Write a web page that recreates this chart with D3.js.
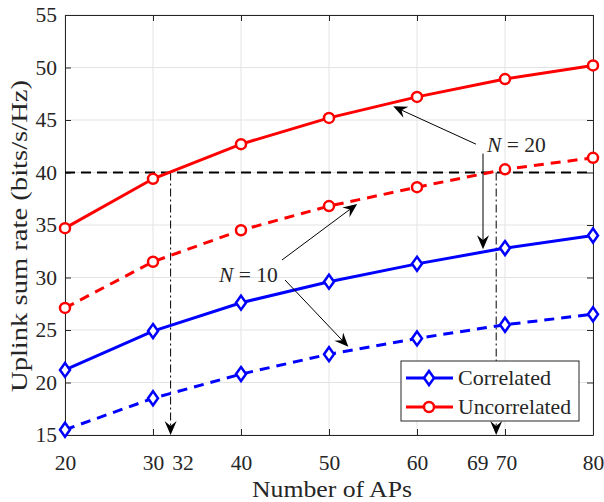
<!DOCTYPE html>
<html><head><meta charset="utf-8">
<script src="https://cdn.jsdelivr.net/npm/d3@7"></script>
<style>body{margin:0;background:#fff}svg text{font-family:"Liberation Serif","Times New Roman",serif;fill:#262626}</style>
</head><body><svg id="c" width="604" height="502"></svg>
<script>
const aps = [20, 30, 40, 50, 60, 70, 80];
const corrN20 = [21.2, 24.9, 27.6, 29.6, 31.3, 32.8, 34.0];
const corrN10 = [15.5, 18.5, 20.8, 22.7, 24.2, 25.5, 26.5];
const uncorrN20 = [34.7, 39.4, 42.7, 45.2, 47.2, 48.9, 50.2];
const uncorrN10 = [27.1, 31.5, 34.5, 36.8, 38.6, 40.3, 41.4];
const xTicks = [20, 30, 32, 40, 50, 60, 69, 70, 80];
const xGrid = [20, 30, 40, 50, 60, 70, 80];
const yTicks = [15, 20, 25, 30, 35, 40, 45, 50, 55];
const target = 40;
const crossings = [32, 69];
const legendNames = ["Correlated", "Uncorrelated"];

const svg = d3.select("#c");
const L = 65, R = 593, T = 15, B = 435;
const x = d3.scaleLinear().domain([20, 80]).range([L, R]);
const y = d3.scaleLinear().domain([15, 55]).range([B, T]);
const axisCol = "#262626";

// grid
const g = svg.append("g");
g.selectAll(".gx").data(xGrid).join("line").attr("x1", d => x(d)).attr("x2", d => x(d)).attr("y1", T).attr("y2", B).attr("stroke", "#e3e3e3").attr("stroke-width", 1);
g.selectAll(".gy").data(yTicks).join("line").attr("y1", d => y(d)).attr("y2", d => y(d)).attr("x1", L).attr("x2", R).attr("stroke", "#e3e3e3").attr("stroke-width", 1);

// axes
const fs = "21.5px";
const ax = svg.append("g").attr("transform", `translate(0,${B})`).call(d3.axisBottom(x).tickValues(xTicks).tickSizeInner(-6).tickSizeOuter(0).tickPadding(20));
const ay = svg.append("g").attr("transform", `translate(${L},0)`).call(d3.axisLeft(y).tickValues(yTicks).tickSizeInner(-6).tickSizeOuter(0).tickPadding(8));
svg.append("g").attr("transform", `translate(0,${T})`).call(d3.axisTop(x).tickValues(xGrid).tickSizeInner(-6).tickSizeOuter(0).tickFormat(""));
svg.append("g").attr("transform", `translate(${R},0)`).call(d3.axisRight(y).tickValues(yTicks).tickSizeInner(-6).tickSizeOuter(0).tickFormat(""));
svg.selectAll(".domain").attr("stroke", axisCol);
svg.selectAll(".tick line").attr("stroke", axisCol);
ax.selectAll(".tick").filter(d => d % 10 !== 0).select("line").remove();
svg.selectAll(".tick text").style("font-size", fs).attr("fill", axisCol).style("font-family", '"Liberation Serif",serif');
ax.selectAll(".tick text").attr("dx", d => d === 32 ? "12" : d === 69 ? "-19" : d === 70 ? "1" : "0");

// target line
svg.append("line").attr("x1", x(20)).attr("x2", x(80)).attr("y1", y(target)).attr("y2", y(target)).attr("stroke", "#000").attr("stroke-width", 2).attr("stroke-dasharray", "10,6");

function arrowHead(x2, y2, x1, y1, len, wid) {
  const a = Math.atan2(y2 - y1, x2 - x1);
  const ux = Math.cos(a), uy = Math.sin(a), px = -uy, py = ux;
  const bx = x2 - ux * len, by = y2 - uy * len;
  const nx = x2 - ux * len * 0.65, ny = y2 - uy * len * 0.65;
  return `M${x2},${y2}L${bx + px * wid},${by + py * wid}L${nx},${ny}L${bx - px * wid},${by - py * wid}Z`;
}

// dash-dot verticals with arrows
crossings.forEach(c => {
  svg.append("line").attr("x1", x(c)).attr("x2", x(c)).attr("y1", y(target)).attr("y2", y(15) - 8).attr("stroke", "#000").attr("stroke-width", 1).attr("stroke-dasharray", "8,3,2,3");
  svg.append("path").attr("d", arrowHead(x(c), y(15), x(c), y(target), 14, 6)).attr("fill", "#000");
});

// series
const series = [
  {v: uncorrN20, color: "#ff0000", dash: null, m: "o"},
  {v: uncorrN10, color: "#ff0000", dash: "10,7", m: "o"},
  {v: corrN20, color: "#0000ff", dash: null, m: "d"},
  {v: corrN10, color: "#0000ff", dash: "10,7", m: "d"}
];
const line = d3.line().x((d, i) => x(aps[i])).y(d => y(d));
const diamond = "M0,-7L5,0L0,7L-5,0Z";
series.forEach(s => {
  svg.append("path").attr("d", line(s.v)).attr("fill", "none").attr("stroke", s.color).attr("stroke-width", 3).attr("stroke-dasharray", s.dash);
  const mk = svg.append("g").selectAll("g").data(s.v).join("g").attr("transform", (d, i) => `translate(${x(aps[i])},${y(d)})`);
  if (s.m === "o") mk.append("circle").attr("r", 5).attr("fill", "#fff").attr("stroke", s.color).attr("stroke-width", 2.5);
  else mk.append("path").attr("d", diamond).attr("fill", "#fff").attr("stroke", s.color).attr("stroke-width", 2.5);
});

// annotations (data coordinates)
const annArrows = [
  [66.7, 42.7, 57.3, 46.3],
  [67.5, 41.8, 67.5, 32.7],
  [44.66, 31.67, 53.2, 37.0],
  [45.0, 29.76, 52.2, 23.4]
];
annArrows.forEach(([a, b, c, d]) => {
  const x1 = x(a), y1 = y(b), x2 = x(c), y2 = y(d);
  const ang = Math.atan2(y2 - y1, x2 - x1);
  svg.append("line").attr("x1", x1).attr("y1", y1).attr("x2", x2 - Math.cos(ang) * 8).attr("y2", y2 - Math.sin(ang) * 8).attr("stroke", "#000").attr("stroke-width", 1);
  svg.append("path").attr("d", arrowHead(x2, y2, x1, y1, 14, 6)).attr("fill", "#000");
});
const labs = [{t: "20", x: 67.95, y: 41.95}, {t: "10", x: 37.5, y: 29.57}];
labs.forEach(l => {
  const t = svg.append("text").attr("x", x(l.x)).attr("y", y(l.y)).style("font-size", "21.5px").attr("fill", "#000");
  t.append("tspan").style("font-style", "italic").text("N");
  t.append("tspan").text(" = " + l.t);
});

// axis labels
svg.append("text").attr("x", 332).attr("y", 497).attr("text-anchor", "middle").style("font-size", "23px")
  .attr("textLength", 160).attr("lengthAdjust", "spacingAndGlyphs").text("Number of APs");
svg.append("text").attr("transform", "translate(27,236) rotate(-90)").attr("text-anchor", "middle").style("font-size", "23.5px")
  .attr("textLength", 312).attr("lengthAdjust", "spacingAndGlyphs").text("Uplink sum rate (bits/s/Hz)");

// legend
const lg = svg.append("g").attr("transform", "translate(401,361)");
lg.append("rect").attr("width", 178).attr("height", 60).attr("fill", "#fff").attr("stroke", axisCol).attr("stroke-width", 1);
const legLen = [93, 113];
[{c: "#0000ff", m: "d"}, {c: "#ff0000", m: "o"}].forEach((e, i) => {
  const yy = 17 + i * 29;
  lg.append("line").attr("x1", 5).attr("x2", 52).attr("y1", yy).attr("y2", yy).attr("stroke", e.c).attr("stroke-width", 3);
  if (e.m === "o") lg.append("circle").attr("cx", 28).attr("cy", yy).attr("r", 5).attr("fill", "#fff").attr("stroke", e.c).attr("stroke-width", 2.5);
  else lg.append("path").attr("d", diamond).attr("transform", `translate(28,${yy})`).attr("fill", "#fff").attr("stroke", e.c).attr("stroke-width", 2.5);
  lg.append("text").attr("x", 57).attr("y", yy + 7).style("font-size", "22px").attr("fill", "#000")
    .attr("textLength", legLen[i]).attr("lengthAdjust", "spacingAndGlyphs").text(legendNames[i]);
});
</script></body></html>
